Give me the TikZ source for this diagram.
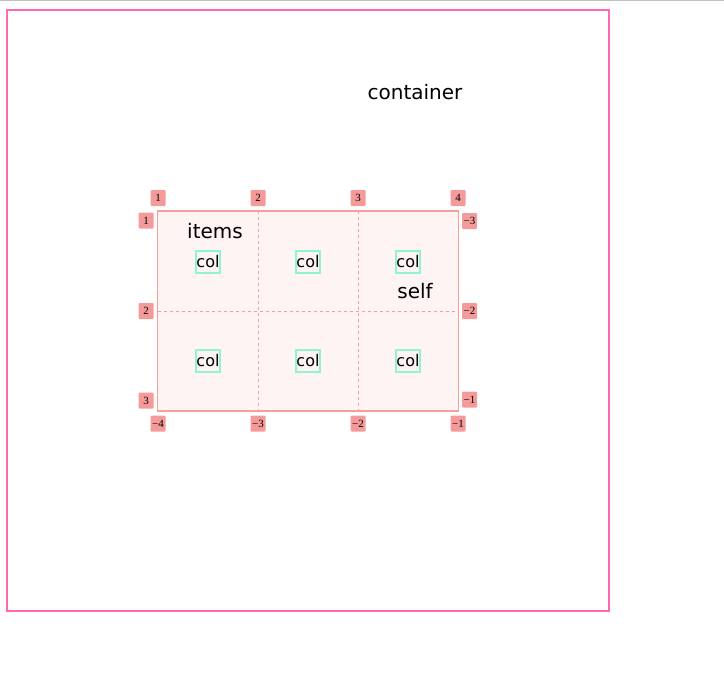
\documentclass[tikz,border=0pt]{standalone}
\usepackage{fontspec}
\setmainfont{DejaVu Sans}
\newfontfamily\lblfont{Liberation Serif}
\definecolor{cpink}{HTML}{FF69B4}
\definecolor{gline}{HTML}{F5A09A}
\definecolor{gfill}{HTML}{FDF4F3}
\definecolor{lbl}{HTML}{F59A9A}
\definecolor{cgreen}{HTML}{8EF5D0}
\definecolor{topgray}{HTML}{C0C0C0}
\begin{document}
\begin{tikzpicture}[x=1pt,y=-1pt,
  numlbl/.style={fill=lbl,rounded corners=1pt,inner sep=0pt,minimum width=15pt,minimum height=16pt,font=\lblfont\fontsize{11}{12}\selectfont},
  colbox/.style={draw=cgreen,line width=2pt,inner sep=0pt,minimum width=24pt,minimum height=22pt,font=\fontsize{16}{18}\selectfont},
  bigtext/.style={font=\fontsize{20}{22}\selectfont,inner sep=0pt},
  gridline/.style={draw=gline,line width=1pt,dash pattern=on 3pt off 3pt}]
\useasboundingbox (0,0) rectangle (724,677);
\draw[topgray,line width=1pt] (0,0.5) -- (724,0.5);
\node[draw=cpink,line width=2pt,minimum width=602pt,minimum height=601pt,inner sep=0pt] (container) at (308,310.5) {};
\node[bigtext] (ctext) at (415,92) {container};
% grid
\node[draw=gline,fill=gfill,line width=1.2pt,minimum width=301pt,minimum height=200pt,inner sep=0pt] (grid) at (308.3,311) {};
\coordinate (v1t) at (258.3,211); \coordinate (v1b) at (258.3,411);
\coordinate (v2t) at (358.3,211); \coordinate (v2b) at (358.3,411);
\coordinate (h1l) at (158,311); \coordinate (h1r) at (458.5,311);
\draw[gridline] (v1t) -- (v1b);
\draw[gridline] (v2t) -- (v2b);
\draw[gridline] (h1l) -- (h1r);
% col boxes
\node[colbox] (c11) at (208,262) {col};
\node[colbox] (c12) at (308,262) {col};
\node[colbox] (c13) at (408,262) {col};
\node[colbox] (c21) at (208,361) {col};
\node[colbox] (c22) at (308,361) {col};
\node[colbox] (c23) at (408,361) {col};
\node[bigtext] (items) at (215,231) {items};
\node[bigtext] (self) at (415,291) {self};
% top labels
\node[numlbl] (t1) at (158,198) {1};
\node[numlbl] (t2) at (258,198) {2};
\node[numlbl] (t3) at (358,198) {3};
\node[numlbl] (t4) at (458,198) {4};
% left labels
\node[numlbl] (l1) at (146,220.5) {1};
\node[numlbl] (l2) at (146,311) {2};
\node[numlbl] (l3) at (146,400.5) {3};
% right labels
\node[numlbl] (r3) at (469.5,221) {−3};
\node[numlbl] (r2) at (469.5,311) {−2};
\node[numlbl] (r1) at (469.5,399.5) {−1};
% bottom labels
\node[numlbl] (b4) at (158,423.5) {−4};
\node[numlbl] (b3) at (258,423.5) {−3};
\node[numlbl] (b2) at (358,423.5) {−2};
\node[numlbl] (b1) at (458,423.5) {−1};
\end{tikzpicture}
\end{document}
